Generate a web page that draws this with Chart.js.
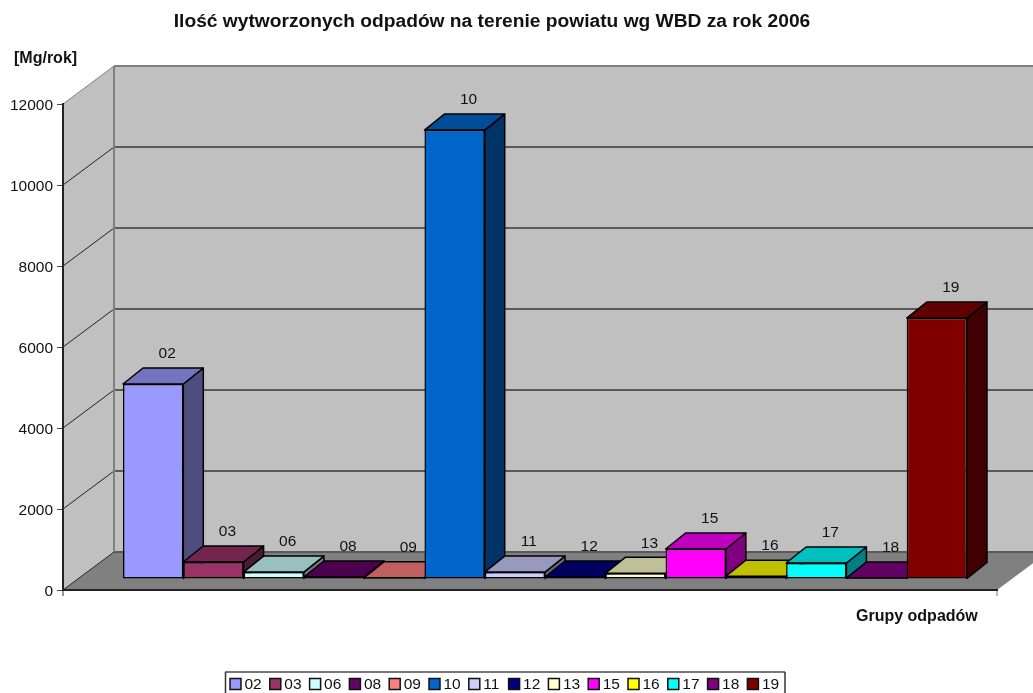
<!DOCTYPE html>
<html lang="pl">
<head>
    <meta charset="UTF-8">
    <title>Ilość wytworzonych odpadów</title>
    <script src="https://cdn.jsdelivr.net/npm/chart.js"></script>
    <style>
        body { margin: 0; background: #fff; }
        canvas { display: block; }
    </style>
</head>
<body>
    <canvas id="wasteChart" width="1033" height="693"></canvas>
    <script>
        // Values
        const groupNames = ['02', '03', '06', '08', '09', '10', '11', '12', '13', '15', '16', '17', '18', '19'];
        const groupValues = [4815, 420, 170, 50, 30, 11086, 170, 50, 140, 740, 70, 395, 25, 6444];
        const groupColors = ['#9999FF', '#993366', '#CCFFFF', '#660066', '#FF8080', '#0066CC', '#CCCCFF',
            '#000080', '#FFFFCC', '#FF00FF', '#FFFF00', '#00FFFF', '#800080', '#800000'];
        const categoryLabels = [''];
        const chartTitle = 'Ilość wytworzonych odpadów na terenie powiatu wg WBD za rok 2006';
        const yAxisTitle = '[Mg/rok]';
        const xAxisTitle = 'Grupy odpadów';

        const fontName = '"Liberation Sans", Arial, sans-serif';
        const wall = { dx: 51, dy: -38 };     // depth of the whole plot box
        const front = { dx: 15, dy: -11 };    // where the bars stand on the floor
        const depth = { dx: 20, dy: -16 };    // depth of one bar

        function shade(hex, f) {
            const n = parseInt(hex.slice(1), 16);
            const c = [n >> 16, (n >> 8) & 255, n & 255].map(v => Math.round(v * f));
            return `rgb(${c[0]},${c[1]},${c[2]})`;
        }

        function poly(ctx, pts, fill, stroke, lw) {
            ctx.beginPath();
            pts.forEach((p, i) => i ? ctx.lineTo(p[0], p[1]) : ctx.moveTo(p[0], p[1]));
            ctx.closePath();
            if (fill) { ctx.fillStyle = fill; ctx.fill(); }
            if (stroke) { ctx.strokeStyle = stroke; ctx.lineWidth = lw; ctx.stroke(); }
        }

        function line(ctx, x1, y1, x2, y2, color, lw) {
            ctx.beginPath();
            ctx.moveTo(x1, y1);
            ctx.lineTo(x2, y2);
            ctx.strokeStyle = color;
            ctx.lineWidth = lw;
            ctx.stroke();
        }

        const box3d = {
            id: 'box3d',
            afterLayout(chart) {
                // the title sits a bit left of the plot centre in the original
                chart.titleBlock.right -= 13;
            },
            beforeDraw(chart) {
                const { ctx, chartArea: a, scales: { y } } = chart;
                const bx = a.left + wall.dx, bTop = a.top + wall.dy, bBot = a.bottom + wall.dy;
                const farRight = a.right + wall.dx;
                ctx.save();
                poly(ctx, [[a.left, a.top], [bx, bTop], [bx, bBot], [a.left, a.bottom]], '#C0C0C0');
                poly(ctx, [[bx, bTop], [farRight, bTop], [farRight, bBot], [bx, bBot]], '#C0C0C0');
                poly(ctx, [[a.left, a.bottom], [bx, bBot], [farRight, bBot], [a.right, a.bottom]], '#808080');
                y.ticks.forEach(t => {
                    const py = y.getPixelForValue(t.value);
                    const edge = t.value === y.max;
                    line(ctx, bx, py + wall.dy, farRight, py + wall.dy, edge ? '#808080' : '#5a5a5a', 2);
                    line(ctx, a.left, py, bx, py + wall.dy, edge ? '#808080' : '#222', 1);
                });
                line(ctx, bx, bTop, bx, bBot, '#808080', 2);
                // end ticks of the category axis
                line(ctx, a.left, a.bottom, a.left, a.bottom + 6, '#333', 1);
                line(ctx, a.right, a.bottom, a.right, a.bottom + 6, '#808080', 1);
                ctx.restore();
            },
            beforeDatasetsDraw(chart) {
                const { ctx } = chart;
                const metas = chart.data.datasets.map((d, i) => chart.getDatasetMeta(i));
                ctx.save();
                ctx.translate(front.dx, front.dy);
                ctx.lineJoin = 'round';
                // painted left to right so the next bar hides the side of the previous one
                metas.forEach((meta, i) => {
                    const bar = meta.data[0];
                    const { x, y, base, width } = bar.getProps(['x', 'y', 'base', 'width'], true);
                    const x0 = x - width / 2, x1 = x + width / 2, c = groupColors[i];
                    poly(ctx, [[x1, y], [x1 + depth.dx, y + depth.dy], [x1 + depth.dx, base + depth.dy], [x1, base]],
                        shade(c, 0.5), '#000', 1.5);
                    poly(ctx, [[x0, y], [x0 + depth.dx, y + depth.dy], [x1 + depth.dx, y + depth.dy], [x1, y]],
                        shade(c, 0.75), '#000', 1.5);
                    bar.draw(ctx);
                });
                ctx.fillStyle = '#111';
                ctx.font = '15.5px ' + fontName;
                ctx.textAlign = 'center';
                ctx.textBaseline = 'middle';
                metas.forEach((meta, i) => {
                    const bar = meta.data[0];
                    ctx.fillText(groupNames[i], bar.x + 14, bar.y - 30);
                });
                ctx.restore();
                return false;
            },
            afterDraw(chart) {
                const { ctx } = chart;
                ctx.save();
                ctx.fillStyle = '#111';
                ctx.font = 'bold 16px ' + fontName;
                ctx.textBaseline = 'middle';
                ctx.textAlign = 'left';
                ctx.fillText(yAxisTitle, 14, 59);
                ctx.fillText(xAxisTitle, 856, 617);

                // legend frame runs off the bottom of the picture
                line(ctx, 225, 672, 785, 672, '#777', 2);
                line(ctx, 225.5, 672, 225.5, 693, '#333', 1.5);
                line(ctx, 785, 672, 785, 693, '#333', 1.5);
                ctx.font = '15.5px ' + fontName;
                groupNames.forEach((name, i) => {
                    const lx = 230 + i * 39.8;
                    ctx.fillStyle = groupColors[i];
                    ctx.fillRect(lx, 678.5, 11, 11);
                    ctx.strokeStyle = '#111';
                    ctx.lineWidth = 1.5;
                    ctx.strokeRect(lx, 678.5, 11, 11);
                    ctx.fillStyle = '#111';
                    ctx.fillText(name, lx + 14.5, 684.5);
                });
                ctx.restore();
            }
        };

        new Chart(document.getElementById('wasteChart').getContext('2d'), {
            type: 'bar',
            data: {
                labels: categoryLabels,
                datasets: groupNames.map((name, i) => ({
                    label: name,
                    data: [groupValues[i]],
                    backgroundColor: groupColors[i],
                    borderColor: '#000',
                    borderWidth: 1.5,
                    borderSkipped: false
                }))
            },
            options: {
                responsive: false,
                animation: false,
                categoryPercentage: 0.9036,
                barPercentage: 1,
                layout: { padding: { left: 0, right: 36, top: 0, bottom: 0 } },
                plugins: {
                    tooltip: { enabled: false },
                    legend: { display: false },
                    title: {
                        display: true,
                        text: chartTitle,
                        color: '#111',
                        font: { family: fontName, size: 19.2, weight: 'bold' },
                        padding: { top: 10, bottom: 71 }
                    }
                },
                scales: {
                    x: {
                        grid: { display: false },
                        ticks: { display: false },
                        border: { color: '#222', width: 2 },
                        afterFit(s) { s.height = 103; }
                    },
                    y: {
                        min: 0,
                        max: 12000,
                        ticks: {
                            stepSize: 2000,
                            padding: 4,
                            labelOffset: 1.5,
                            color: '#111',
                            font: { family: fontName, size: 15.5 },
                            callback: v => String(v)
                        },
                        grid: { drawOnChartArea: false, tickLength: 6, color: '#444' },
                        border: { color: '#222', width: 2 },
                        afterFit(s) { s.width = 63; }
                    }
                }
            },
            plugins: [box3d]
        });
    </script>
</body>
</html>
